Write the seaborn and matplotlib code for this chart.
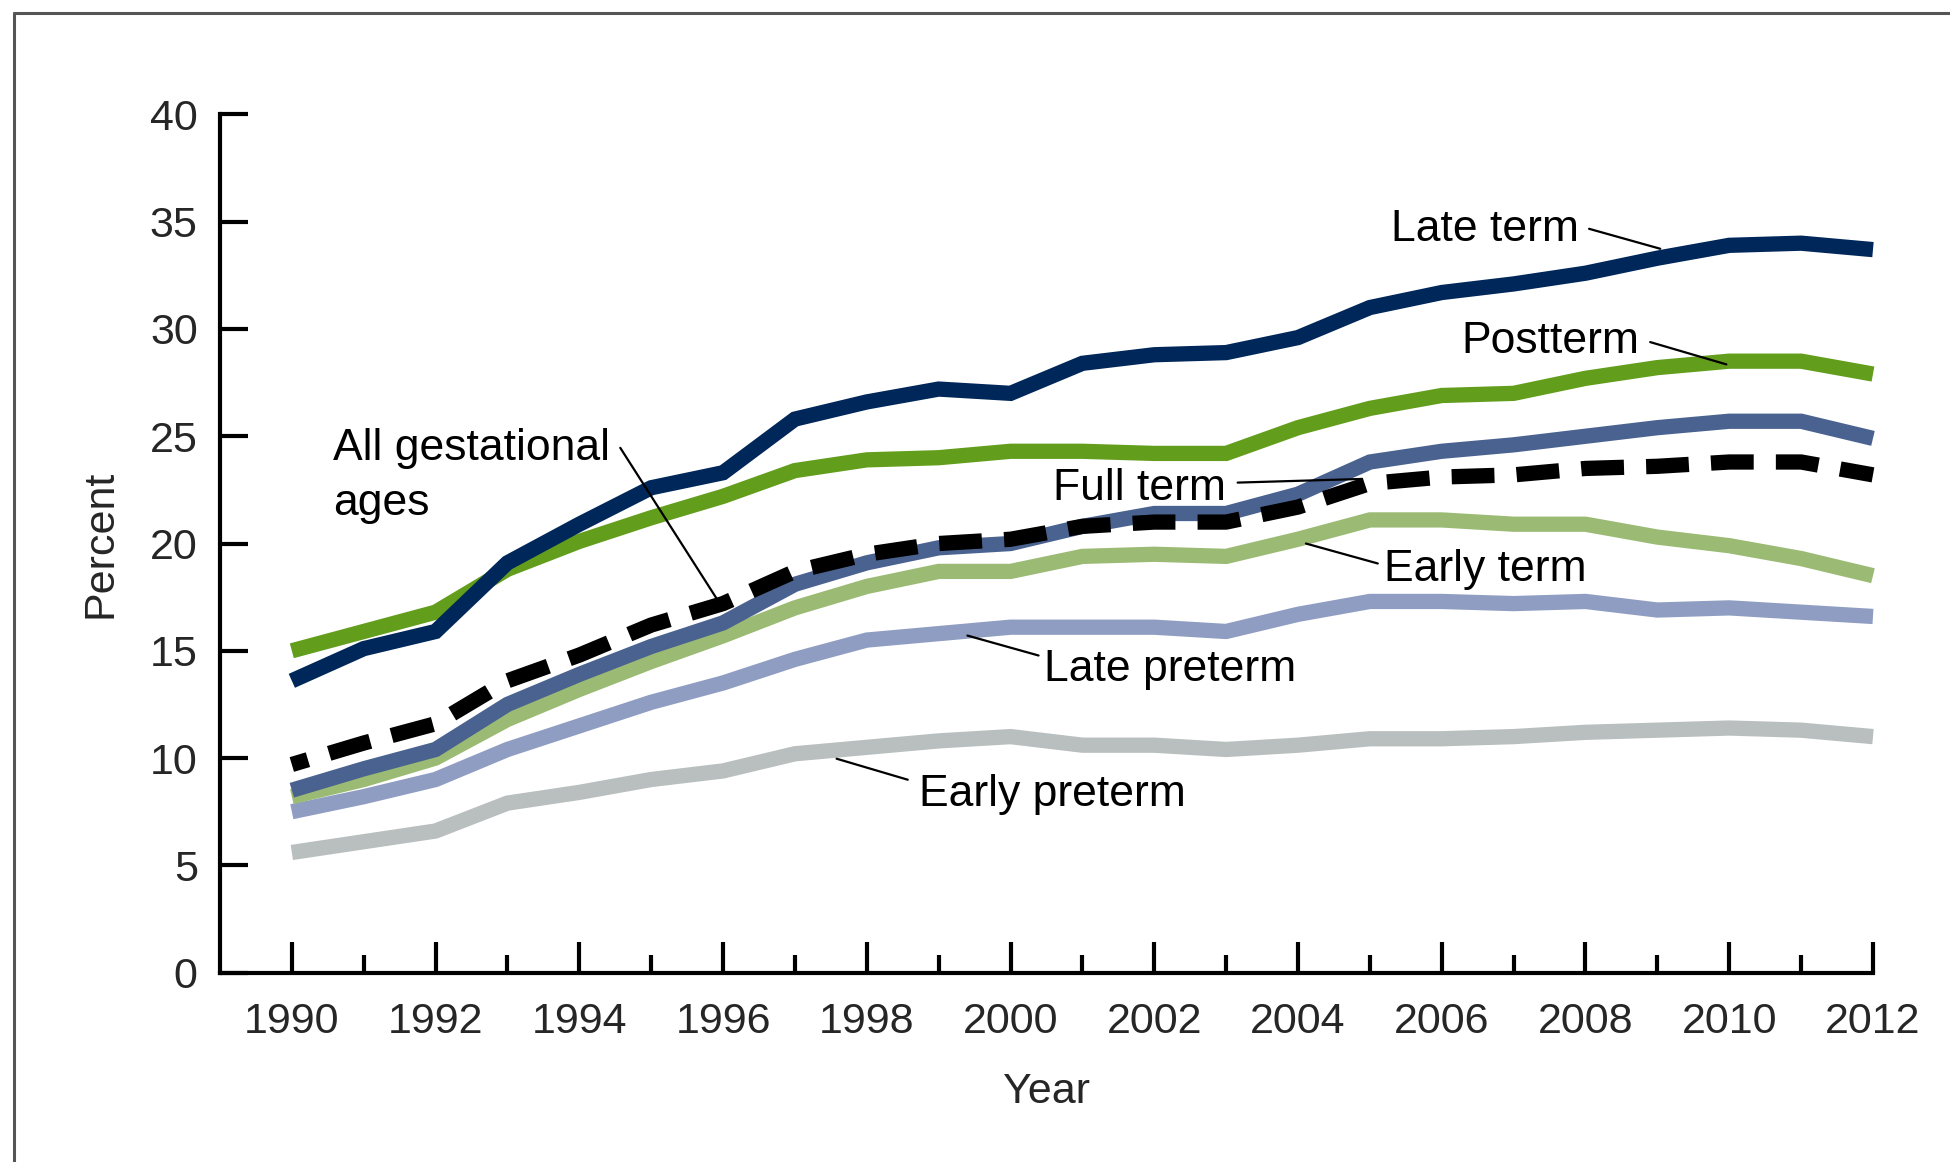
import matplotlib
matplotlib.use("Agg")
import matplotlib.pyplot as plt
import numpy as np
import pandas as pd
import seaborn as sns

years = list(range(1990, 2013))

late_term = [13.6, 15.1, 15.9, 19.1, 20.9, 22.6, 23.3, 25.8, 26.6, 27.2, 27.0, 28.4,
             28.8, 28.9, 29.6, 31.0, 31.7, 32.1, 32.6, 33.3, 33.9, 34.0, 33.7]
postterm = [15.0, 15.9, 16.8, 18.8, 20.1, 21.2, 22.2, 23.4, 23.9, 24.0, 24.3, 24.3,
            24.2, 24.2, 25.4, 26.3, 26.9, 27.0, 27.7, 28.2, 28.5, 28.5, 27.9]
full_term = [8.5, 9.5, 10.4, 12.5, 13.9, 15.2, 16.3, 18.1, 19.1, 19.8, 20.0, 20.8,
             21.4, 21.4, 22.3, 23.8, 24.3, 24.6, 25.0, 25.4, 25.7, 25.7, 24.9]
all_ages = [9.7, 10.7, 11.6, 13.6, 14.8, 16.2, 17.2, 18.7, 19.5, 20.0, 20.2, 20.8,
            21.0, 21.0, 21.7, 22.8, 23.1, 23.2, 23.5, 23.6, 23.8, 23.8, 23.2]
early_term = [8.2, 9.0, 10.0, 11.8, 13.2, 14.5, 15.7, 17.0, 18.0, 18.7, 18.7, 19.4,
              19.5, 19.4, 20.2, 21.1, 21.1, 20.9, 20.9, 20.3, 19.9, 19.3, 18.5]
late_preterm = [7.5, 8.2, 9.0, 10.4, 11.5, 12.6, 13.5, 14.6, 15.5, 15.8, 16.1, 16.1,
                16.1, 15.9, 16.7, 17.3, 17.3, 17.2, 17.3, 16.9, 17.0, 16.8, 16.6]
early_preterm = [5.6, 6.1, 6.6, 7.9, 8.4, 9.0, 9.4, 10.2, 10.5, 10.8, 11.0, 10.6,
                 10.6, 10.4, 10.6, 10.9, 10.9, 11.0, 11.2, 11.3, 11.4, 11.3, 11.0]

# drawing order: back to front
series = [
    ("Early preterm", early_preterm, "#b8bfbe"),
    ("Late preterm", late_preterm, "#8f9dc2"),
    ("Early term", early_term, "#9bbb74"),
    ("Full term", full_term, "#4a6290"),
    ("Postterm", postterm, "#629e1c"),
    ("Late term", late_term, "#00275a"),
    ("All gestational ages", all_ages, "black"),
]

# label text position (x, y) and leader line (x0, y0, x1, y1)
labels = [
    ("Late term", (2005.30, 34.63), (2008.05, 34.67, 2009.04, 33.74)),
    ("Postterm", (2006.27, 29.42), (2008.90, 29.39, 2009.96, 28.35)),
    ("Full term", (2000.59, 22.57), (2003.16, 22.84, 2004.89, 23.01)),
    ("Early term", (2005.20, 18.81), (2005.11, 19.07, 2004.11, 20.0)),
    ("Late preterm", (2000.47, 14.11), (2000.39, 14.78, 1999.40, 15.71)),
    ("Early preterm", (1998.72, 8.31), (1998.57, 8.99, 1997.58, 9.97)),
    ("All gestational\nages", (1990.57, 23.14), (1994.57, 24.46, 1995.94, 17.28)),
]

sns.set_style("white")
plt.rcParams['font.family'] = ['Liberation Sans', 'DejaVu Sans']

FS = 31
fig = plt.figure(figsize=(19.5, 11.62), dpi=100)
ax = fig.add_axes([0.1128, 0.163, 0.8477, 0.7385])

for name, vals, color in series:
    df = pd.DataFrame({"Year": years, "Percent": vals})
    if name == "All gestational ages":
        sns.lineplot(data=df, x="Year", y="Percent", color=color, lw=11, ax=ax,
                     linestyle=(1.7, (2.8, 1.45)), solid_capstyle="butt",
                     dash_capstyle="butt", clip_on=False)
    else:
        sns.lineplot(data=df, x="Year", y="Percent", color=color, lw=11, ax=ax,
                     solid_capstyle="butt", solid_joinstyle="miter", clip_on=False)

for text, (tx, ty), (x0, y0, x1, y1) in labels:
    ax.text(tx, ty, text, fontsize=32, ha="left", va="center", linespacing=1.42,
            color="black")
    ax.plot([x0, x1], [y0, y1], color="black", lw=1.6)

ax.set_xlim(1989, 2012)
ax.set_ylim(0, 40)
ax.set_xticks(range(1990, 2013, 2))
ax.set_xticks(range(1991, 2012, 2), minor=True)
ax.set_yticks(range(0, 41, 5))

for side in ("top", "right"):
    ax.spines[side].set_visible(False)
for side in ("left", "bottom"):
    ax.spines[side].set_linewidth(3)
    ax.spines[side].set_color("black")

ax.tick_params(axis="x", which="major", direction="in", length=22, width=3,
               pad=21, labelsize=FS, color="black", bottom=True)
ax.tick_params(axis="x", which="minor", direction="in", length=13, width=3,
               color="black", bottom=True)
ax.tick_params(axis="y", which="major", direction="in", length=20, width=3,
               pad=16, labelsize=FS, color="black", left=True)

ax.set_xlabel("Year", fontsize=FS)
ax.set_ylabel("Percent", fontsize=FS)
ax.xaxis.set_label_coords(0.5, -0.116)
ax.yaxis.set_label_coords(-0.06, 0.5)

# outer frame (top and left edges of the figure box)
fig.add_artist(plt.Line2D([0.0072, 1.0], [0.989, 0.989], color="#555555", lw=2.2,
                          transform=fig.transFigure))
fig.add_artist(plt.Line2D([0.0072, 0.0072], [0.0, 0.989], color="#555555", lw=2.2,
                          transform=fig.transFigure))

fig.savefig("out.png", dpi=100)
